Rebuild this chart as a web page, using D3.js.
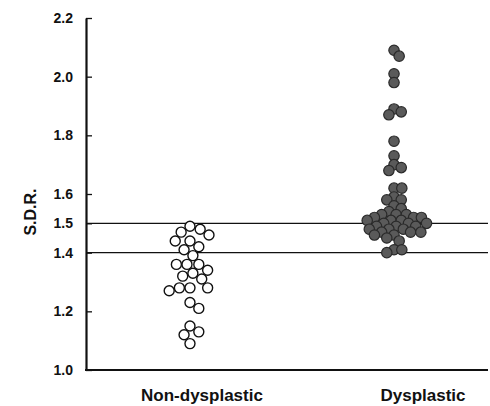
<!DOCTYPE html>
<html>
<head>
<meta charset="utf-8">
<script src="https://cdn.jsdelivr.net/npm/d3@7"></script>
<style>
  body { margin: 0; background: #fff; }
  svg { display: block; font-family: "Liberation Sans", Arial, Helvetica, sans-serif; }
</style>
</head>
<body>
<svg id="chart" width="490" height="406"></svg>
<script>
// --- data ---
var categories = ["Non-dysplastic", "Dysplastic"];

var nonDysplastic = [1.49, 1.48, 1.47, 1.46, 1.44, 1.44, 1.42, 1.41, 1.39, 1.36, 1.36, 1.36,
  1.34, 1.33, 1.32, 1.31, 1.28, 1.28, 1.28, 1.27, 1.23, 1.21, 1.15, 1.13, 1.12, 1.09];

var dysplastic = [2.09, 2.07, 2.01, 1.98, 1.89, 1.88, 1.87, 1.78, 1.73, 1.70, 1.69, 1.68,
  1.62, 1.62, 1.59, 1.58, 1.58, 1.56, 1.55, 1.54, 1.53, 1.53, 1.53, 1.52, 1.52, 1.52,
  1.51, 1.51, 1.51, 1.50, 1.50, 1.50, 1.49, 1.49, 1.49, 1.48, 1.48, 1.48, 1.47, 1.47,
  1.47, 1.46, 1.46, 1.45, 1.44, 1.41, 1.41, 1.40];

var yTicks = [1.0, 1.2, 1.4, 1.5, 1.6, 1.8, 2.0, 2.2];
var cutoffs = [1.4, 1.5];   // reference lines
var yLabel = "S.D.R.";

// --- layout ---
var svg = d3.select("#chart");
var plotLeft = 86, plotRight = 488, plotTop = 18, plotBottom = 370;

var y = d3.scaleLinear().domain([1.0, 2.2]).range([plotBottom, plotTop]);
// cluster centres sit a little left of the label centres in the original
var x = d3.scalePoint().domain(categories).range([plotLeft + 4, plotRight + 6]).padding(0.49);
var labelX = d3.scalePoint().domain(categories).range([202, 423]);

// simple greedy beeswarm: closest free spot to the centre line
function swarm(values, r) {
  var placed = [];
  values.forEach(function (v) {
    var py = y(v);
    var near = placed.filter(function (p) { return Math.abs(p.y - py) < 2 * r; });
    var cands = [0];
    near.forEach(function (p) {
      var dx = Math.sqrt(4 * r * r - (p.y - py) * (p.y - py));
      cands.push(p.x + dx, p.x - dx);
    });
    cands.sort(function (a, b) { return Math.abs(a) - Math.abs(b); });
    var best = cands.find(function (c) {
      return near.every(function (p) {
        return (p.x - c) * (p.x - c) + (p.y - py) * (p.y - py) >= 4 * r * r - 0.01;
      });
    });
    placed.push({ x: best, y: py, v: v });
  });
  return placed;
}

// reference lines
svg.selectAll(".cut")
  .data(cutoffs)
  .enter().append("line")
  .attr("x1", plotLeft).attr("x2", plotRight)
  .attr("y1", d => y(d)).attr("y2", d => y(d))
  .attr("stroke", "#111").attr("stroke-width", 1.3);

// y axis
var yAxis = d3.axisLeft(y)
  .tickValues(yTicks)
  .tickFormat(d3.format(".1f"))
  .tickSizeInner(-6)
  .tickSizeOuter(0)
  .tickPadding(13);

var gy = svg.append("g").attr("transform", "translate(" + plotLeft + ",0)").call(yAxis);
gy.select(".domain").attr("stroke", "#111").attr("stroke-width", 2.2);
gy.selectAll(".tick line").attr("stroke", "#111").attr("stroke-width", 1.3);
gy.selectAll(".tick text")
  .attr("fill", "#111")
  .style("font-size", "14px")
  .style("font-weight", "bold");

// x baseline + category labels
svg.append("line")
  .attr("x1", plotLeft - 1).attr("x2", plotRight)
  .attr("y1", plotBottom).attr("y2", plotBottom)
  .attr("stroke", "#111").attr("stroke-width", 2.2);

svg.selectAll(".cat")
  .data(categories)
  .enter().append("text")
  .attr("x", d => labelX(d))
  .attr("y", 401)
  .attr("text-anchor", "middle")
  .attr("fill", "#111")
  .style("font-size", "17px")
  .style("font-weight", "bold")
  .text(d => d);

svg.append("text")
  .attr("transform", "translate(36,212) rotate(-90)")
  .attr("text-anchor", "middle")
  .attr("fill", "#111")
  .style("font-size", "16px")
  .style("font-weight", "bold")
  .text(yLabel);

// dots
var openDots = swarm(nonDysplastic, 5.3);
svg.append("g").selectAll("circle")
  .data(openDots)
  .enter().append("circle")
  .attr("cx", d => x(categories[0]) + d.x)
  .attr("cy", d => d.y)
  .attr("r", 5)
  .attr("fill", "#fff")
  .attr("stroke", "#111")
  .attr("stroke-width", 1.4);

var filledDots = swarm(dysplastic, 3.9);
svg.append("g").selectAll("circle")
  .data(filledDots)
  .enter().append("circle")
  .attr("cx", d => x(categories[1]) + d.x)
  .attr("cy", d => d.y)
  .attr("r", 5.2)
  .attr("fill", "#5a5a5a")
  .attr("stroke", "#2a2a2a")
  .attr("stroke-width", 1.2);
</script>
</body>
</html>
